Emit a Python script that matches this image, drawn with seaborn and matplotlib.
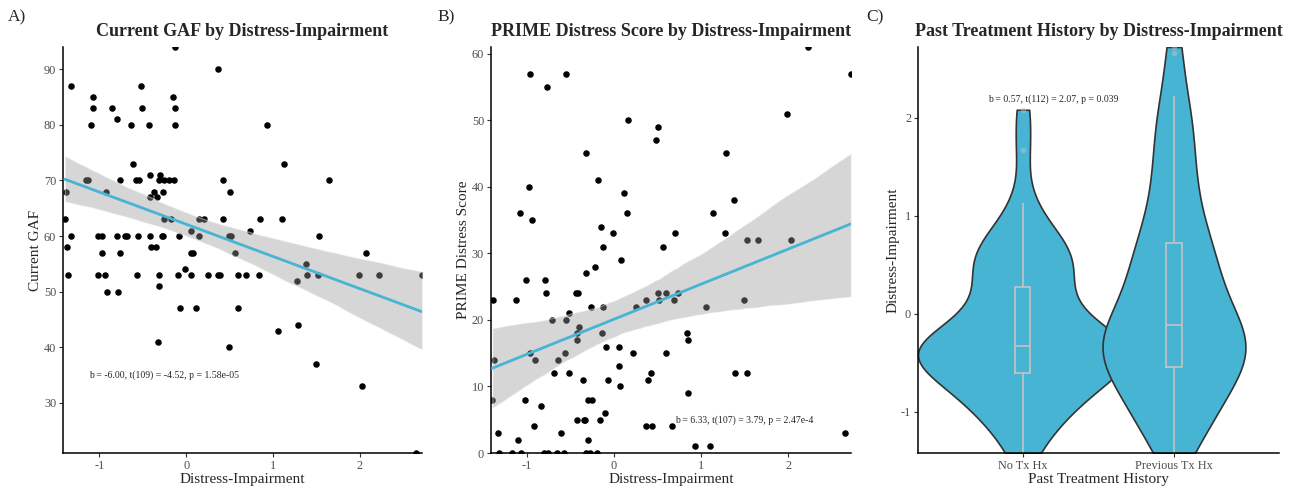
import pandas as pd
import matplotlib.pyplot as plt
import seaborn as sns

# ---- panel A: distress-impairment vs current GAF ----
gaf_di = [-0.13, -1.33, -1.07, -1.08, -1.10, -0.85, -0.80, -0.64, -0.52, -0.51,
          -0.43, -0.15, -0.13, -0.13, 0.37, -0.61, -0.76, -1.16, -1.13, -1.39,
          -0.92, -1.40, -0.58, -0.55, -0.42, -0.42, -0.34, -0.37, -0.27, -0.30,
          -0.31, -0.26, -0.20, -0.14, -0.26, -0.17, 0.05, 0.15, 0.20, 0.93,
          1.13, 0.42, 0.50, 1.65, 0.43, 0.85, 1.10, 0.74,
          -1.375, -1.333, -1.36, -1.022, -0.976, -0.968, -1.022, -0.941, -0.910, -0.803,
          -0.768, -0.711, -0.680, -0.788, -0.553, -0.565, -0.423, -0.411, -0.353, -0.284,
          -0.269, -0.315, -0.315, -0.330, -0.088, -0.096, -0.019, -0.073, 0.054, 0.081,
          0.061, 0.15, 0.115, 0.25, 0.369, 0.388, 0.496, 0.511, 0.561, 0.595,
          0.592, 0.496, 0.695, 0.834, 1.056, 1.275, 1.287, 1.383, 1.391, 1.533,
          1.525, 1.491, 1.99, 2.078, 2.025, 2.228, 2.72, 2.655]
gaf_score = [94, 87, 85, 83, 80, 83, 81, 80, 87, 83,
             80, 85, 83, 80, 90, 73, 70, 70, 70, 68,
             68, 63, 70, 70, 71, 67, 67, 68, 68, 71,
             70, 70, 70, 70, 63, 63, 61, 63, 63, 80,
             73, 70, 68, 70, 63, 63, 63, 61,
             58, 60, 53, 60, 60, 57, 53, 53, 50, 60,
             57, 60, 60, 50, 60, 53, 60, 58, 58, 60,
             60, 53, 51, 41, 60, 53, 54, 47, 57, 57,
             53, 60, 47, 53, 53, 53, 60, 60, 57, 53,
             47, 40, 53, 53, 43, 52, 44, 55, 53, 60,
             53, 37, 53, 57, 33, 53, 53, 21]

# ---- panel B: distress-impairment vs PRIME distress ----
prime_di = [-0.966, -0.766, -0.552, 0.165, -0.325, -0.187, -0.969, 0.115, -1.08, -0.938, 0.149, -0.145, -0.015,
            2.23, 2.72, 1.99, 0.51, 0.487, 1.287, 1.384, 1.142, 0.698, 1.28, 1.525, 1.655, 2.03,
            2.655, -0.119, 0.563, 0.084, -0.318, -0.218, -1.011, -0.793, -0.782, -0.433,
            -0.406, -1.383, -1.126, -0.261, -0.119, 0.253, 0.364, 0.502, 0.517, 0.598,
            0.693, 0.739, 1.057, 1.494, -0.517, -0.705, -0.548, -0.402, -0.425, -0.134,
            -0.418, -0.088, 0.057, -0.966, -0.556, 0.215, 0.594, -1.375, -0.908, -0.636,
            0.054, -0.682, -0.51, 0.421, 1.391, 1.533, -0.356, -0.069, 0.387, 0.069,
            0.839, 0.854, 0.851, -1.395, -1.019, -0.291, -0.253, -0.835, -0.916, -0.418,
            -0.345, -0.333, -0.161, -0.10, 0.372, 0.437, 0.667, -1.33, -0.602, -1.096,
            -0.291, 0.935, 1.107, -1.322, -1.172, -1.065, -0.805, -0.759, -0.655, -0.567,
            -0.314, -0.268, -0.195]
prime_score = [57, 55, 57, 50, 45, 41, 40, 39, 36, 35, 36, 34, 33,
               61, 57, 51, 49, 47, 45, 38, 36, 33, 33, 32, 32, 32,
               3, 31, 31, 29, 27, 28, 26, 26, 24, 24,
               24, 23, 23, 22, 22, 22, 23, 24, 23, 24,
               23, 24, 22, 23, 21, 20, 20, 19, 18, 18,
               17, 16, 16, 15, 15, 15, 15, 14, 14, 14,
               13, 12, 12, 12, 12, 12, 11, 11, 11, 10,
               18, 17, 9, 8, 8, 8, 8, 7, 4, 5,
               5, 5, 5, 6, 4, 4, 4, 3, 3, 2,
               2, 1, 1, 0, 0, 0, 0, 0, 0, 0,
               0, 0, 0]

# ---- panel C: distress-impairment by past treatment ----
tx_labels = ["No Tx Hx", "Previous Tx Hx"]
no_tx_di = [-1.42, -1.30, -1.15, -1.05, -0.98, -0.95, -0.88, -0.85, -0.80, -0.75,
            -0.70, -0.66, -0.62, -0.58, -0.55, -0.52, -0.48, -0.45, -0.45, -0.42,
            -0.40, -0.38, -0.37, -0.35, -0.34, -0.33, -0.31, -0.29, -0.27, -0.24,
            -0.20, -0.15, -0.08, 0.00, 0.08, 0.15, 0.25, 0.27, 0.28, 0.45,
            0.50, 0.55, 0.60, 0.62, 0.65, 0.70, 0.80, 0.95, 1.13, 1.67,
            2.08]
prev_tx_di = [-1.42, -1.35, -1.28, -1.21, -1.15, -1.09, -1.03, -0.98, -0.93, -0.88,
              -0.83, -0.78, -0.74, -0.70, -0.66, -0.62, -0.58, -0.55, -0.52, -0.50,
              -0.47, -0.45, -0.42, -0.40, -0.37, -0.35, -0.32, -0.30, -0.27, -0.25,
              -0.22, -0.19, -0.17, -0.14, -0.12, -0.11, -0.06, -0.01, 0.04, 0.09,
              0.14, 0.19, 0.24, 0.29, 0.34, 0.39, 0.44, 0.49, 0.54, 0.59,
              0.64, 0.69, 0.73, 0.78, 0.87, 0.96, 1.05, 1.14, 1.24, 1.34,
              1.44, 1.55, 1.66, 1.78, 1.90, 2.02, 2.12, 2.22, 2.655, 2.72]

stats_a = "b = -6.00, t(109) = -4.52, p = 1.58e-05"
stats_b = "b = 6.33, t(107) = 3.79, p = 2.47e-4"
stats_c = "b = 0.57, t(112) = 2.07, p = 0.039"

BLUE = "#48B4D3"
TICK_GREY = "#4D4D4D"

sns.set_style("ticks")
plt.rcParams['font.family'] = ['Liberation Serif', 'DejaVu Serif']
plt.rcParams['axes.unicode_minus'] = False

fig = plt.figure(figsize=(12.92, 4.88), dpi=100)
ax_a = fig.add_axes([0.0488, 0.0717, 0.2779, 0.832])
ax_b = fig.add_axes([0.3800, 0.0717, 0.2786, 0.832])
ax_c = fig.add_axes([0.7105, 0.0717, 0.2794, 0.832])


def scatter_fit(ax, x, y):
    ax.scatter(x, y, s=22, color="black", linewidth=0, zorder=2)
    sns.regplot(x=x, y=y, ax=ax, scatter=False, color=BLUE, ci=95, seed=7,
                line_kws=dict(lw=2.0))
    band = ax.collections[-1]
    band.set_facecolor((0.6, 0.6, 0.6))
    band.set_alpha(0.4)
    band.set_zorder(3)
    ax.lines[-1].set_zorder(4)


def style_axes(ax, title, xlabel, ylabel):
    ax.set_title(title, fontsize=13, fontweight="bold", pad=8)
    ax.set_xlabel(xlabel, fontsize=11, labelpad=1)
    ax.set_ylabel(ylabel, fontsize=11, labelpad=1)
    ax.tick_params(labelsize=8.8, labelcolor=TICK_GREY, color="#333333",
                   length=3, width=0.8, pad=2)
    for s in ["top", "right"]:
        ax.spines[s].set_visible(False)
    for s in ["left", "bottom"]:
        ax.spines[s].set_linewidth(1.1)
        ax.spines[s].set_color("black")


# A
scatter_fit(ax_a, gaf_di, gaf_score)
ax_a.set_xlim(-1.42, 2.72)
ax_a.set_ylim(21, 94)
ax_a.set_xticks([-1, 0, 1, 2])
ax_a.set_yticks([30, 40, 50, 60, 70, 80, 90])
ax_a.text(-0.25, 35, stats_a, fontsize=7, ha="center", va="center")
style_axes(ax_a, "Current GAF by Distress-Impairment", "Distress-Impairment", "Current GAF")

# B
scatter_fit(ax_b, prime_di, prime_score)
ax_b.set_xlim(-1.41, 2.72)
ax_b.set_ylim(0, 61)
ax_b.set_xticks([-1, 0, 1, 2])
ax_b.set_yticks([0, 10, 20, 30, 40, 50, 60])
ax_b.text(1.50, 5, stats_b, fontsize=7, ha="center", va="center")
style_axes(ax_b, "PRIME Distress Score by Distress-Impairment", "Distress-Impairment",
           "PRIME Distress Score")

# C
df_c = pd.DataFrame({
    "tx": [tx_labels[0]] * len(no_tx_di) + [tx_labels[1]] * len(prev_tx_di),
    "di": no_tx_di + prev_tx_di,
})
sns.violinplot(data=df_c, x="tx", y="di", order=tx_labels, ax=ax_c, color=BLUE,
               saturation=1, linecolor="#333333", linewidth=1.2, cut=0, inner=None,
               density_norm="area", width=1.39, bw_adjust=0.8)
sns.boxplot(data=df_c, x="tx", y="di", order=tx_labels, ax=ax_c, width=0.1,
            fill=False, color="#C4C4C4", linewidth=1.2, fliersize=4, showcaps=False,
            flierprops=dict(marker="o", markerfacecolor="#C4C4C4",
                            markeredgecolor="none", alpha=0.45))
ax_c.set_xlim(-0.695, 1.695)
ax_c.set_ylim(-1.42, 2.72)
ax_c.set_yticks([-1, 0, 1, 2])
ax_c.text(0.2, 2.19, stats_c, fontsize=7, ha="center", va="center")
style_axes(ax_c, "Past Treatment History by Distress-Impairment", "Past Treatment History",
           "Distress-Impairment")

for lbl, xp in [("A)", 8), ("B)", 437), ("C)", 866)]:
    fig.text(xp / 1292, 1 - 17 / 488, lbl, fontsize=12.5, ha="left", va="center")

fig.savefig("out.png", dpi=100)
